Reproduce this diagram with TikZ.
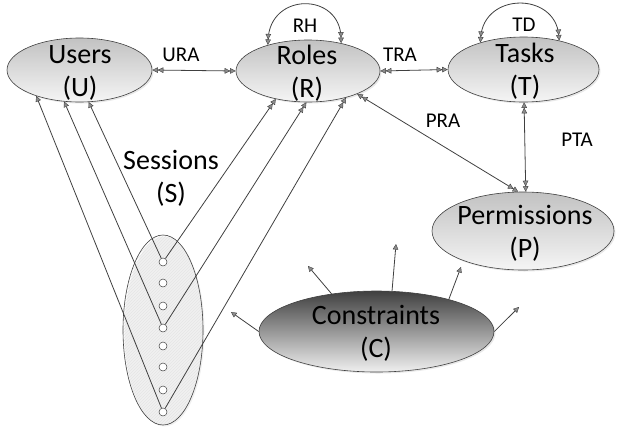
\documentclass[tikz,border=0pt]{standalone}
\usepackage{fontspec}
\setmainfont{Carlito}
\usetikzlibrary{arrows.meta,shapes.geometric,shadows,patterns}
\definecolor{ln}{HTML}{404040}
\tikzset{
  x=1pt, y=-1pt,
  tp/.tip={Triangle[length=5.5pt,width=5.5pt,fill=black!45,line width=0.4pt]},
  ent/.style={ellipse, draw=ln, line width=0.6pt, inner sep=0pt,
    top color=black!24, bottom color=black!4,
    drop shadow={shadow xshift=1.5pt, shadow yshift=-1.5pt, opacity=0.18}},
  dark/.style={top color=black!75, bottom color=black!6},
  big/.style={font=\fontsize{28}{33}\selectfont, align=center, inner sep=0pt},
  lbl/.style={font=\fontsize{21}{25}\selectfont, inner sep=0pt},
  conn/.style={draw=ln, line width=0.8pt},
  one/.style={-{tp[]}},
  two/.style={-{tp[]tp[]}},
  both/.style={{tp[]tp[]}-{tp[]tp[]}},
  dot/.style={circle, draw=ln, fill=white, minimum size=8pt, inner sep=0pt, line width=0.5pt},
}
\begin{document}
\begin{tikzpicture}
\useasboundingbox (0,0) rectangle (617,429);

% entities
\node[ent, minimum width=145pt, minimum height=64pt] (users) at (79.5,70) {};
\node[ent, minimum width=144pt, minimum height=62pt] (roles) at (308,71) {};
\node[ent, minimum width=151pt, minimum height=65pt] (tasks) at (523.5,69.5) {};
\node[ent, minimum width=182pt, minimum height=78pt] (perm) at (523,231) {};
\node[ent, dark, minimum width=235pt, minimum height=81pt] (cons) at (376.5,331.5) {};
\node[ellipse, draw=ln, line width=0.6pt, minimum width=80pt, minimum height=190pt,
  pattern=north east lines, pattern color=black!10,
  drop shadow={shadow xshift=1.5pt, shadow yshift=-1.5pt, opacity=0.12}] (sess) at (163,330) {};

% entity texts
\node[big] (tu) at (80,73) {Users\\(U)};
\node[big] (tr) at (307,73) {Roles\\(R)};
\node[big] (tt) at (525,71) {Tasks\\(T)};
\node[big] (tp) at (525,233) {Permissions\\(P)};
\node[big] (tc) at (376,333) {Constraints\\(C)};
\node[big] (ts) at (171,178) {Sessions\\(S)};

% relation labels
\node[lbl] (lura) at (181,55) {URA};
\node[lbl] (lrh) at (305,26) {RH};
\node[lbl] (ltra) at (400,55) {TRA};
\node[lbl] (ltd) at (524,25) {TD};
\node[lbl] (lpra) at (443,121) {PRA};
\node[lbl] (lpta) at (577,140) {PTA};

% session dots
\foreach \i/\yy in {1/262,2/283,3/306,4/328,5/346,6/367,7/390,8/412}
  \node[dot] (c\i) at (163,\yy) {};

% session lines
\draw[conn, one] (c1) -- (users.-74);
\draw[conn, one] (c4) -- (users.-116);
\draw[conn, one] (c8) -- (users.-149);
\draw[conn, two] (c1) -- (roles.-139);
\draw[conn, two] (c4) -- (roles.-93);
\draw[conn, two] (c8) -- (roles.-35);

% relations
\draw[conn, both] (users.east) -- (roles.west);
\draw[conn, both] (roles.east) -- (tasks.west);
\draw[conn, both] (roles.-25) -- (perm.97);
\draw[conn, both] (tasks.-89) -- (perm.86);
\draw[conn, both] (roles.147) .. controls (270,-8) and (340,-8) .. (roles.40);
\draw[conn, both] (tasks.148) .. controls (484,-8) and (555,-8) .. (tasks.39);

% constraint arrows
\coordinate (k1) at (231,312);
\coordinate (k2) at (308,266);
\coordinate (k3) at (396,244);
\coordinate (k4) at (461,267);
\coordinate (k5) at (519,307);
\draw[conn, one] (cons.west) -- (k1);
\draw[conn, one] (cons.140) -- (k2);
\draw[conn, one] (cons.69) -- (k3);
\draw[conn, one] (cons.24) -- (k4);
\draw[conn, one] (cons.east) -- (k5);
\end{tikzpicture}
\end{document}
